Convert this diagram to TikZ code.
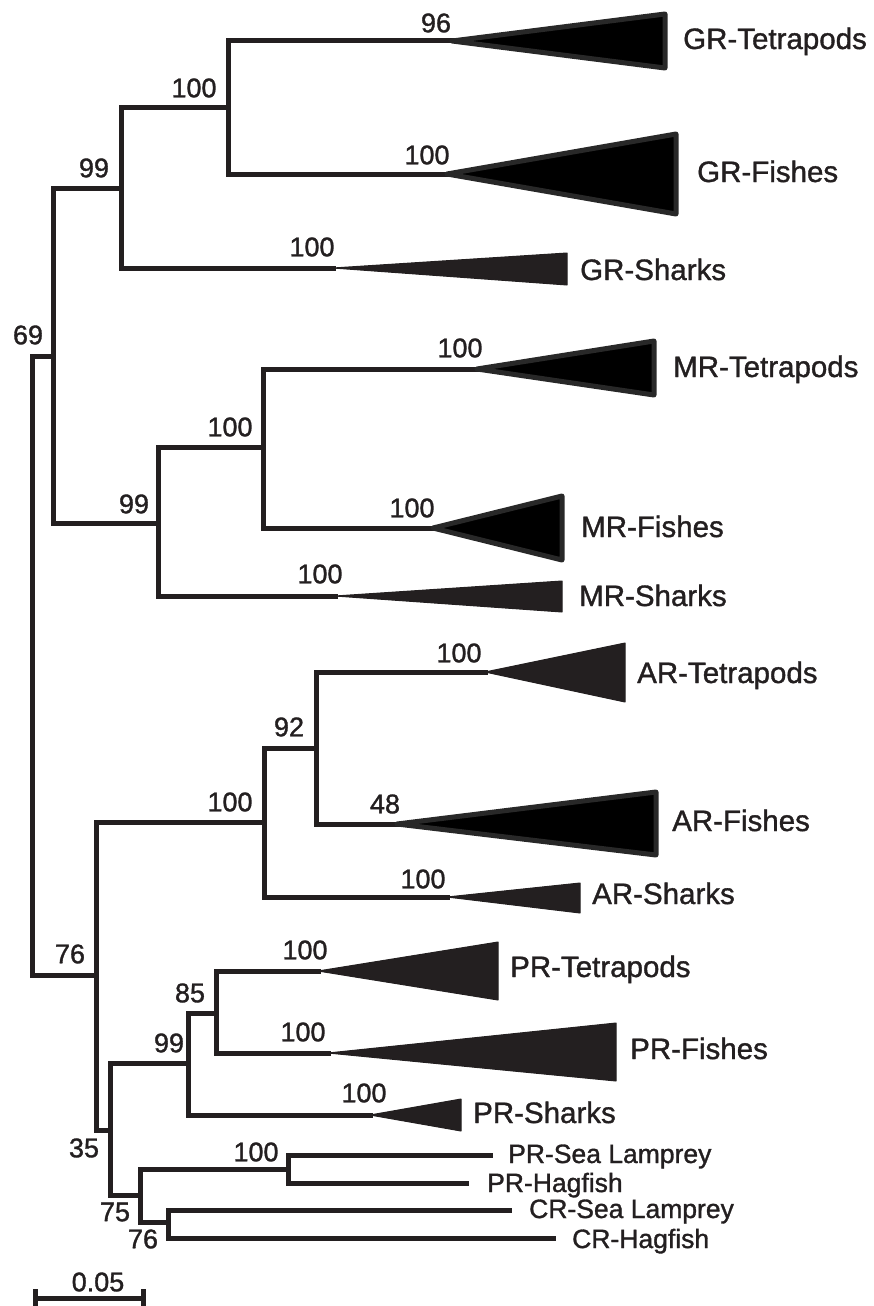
\documentclass[tikz,border=0pt]{standalone}
\usepackage{fontspec}
\setmainfont{Liberation Sans}[FakeBold=1.2]
\definecolor{treecol}{RGB}{35,31,32}
\definecolor{rimcol}{RGB}{40,40,40}
\begin{document}
\begin{tikzpicture}[x=1pt,y=-1pt,
  br/.style={draw=treecol, line width=5pt, line cap=rect},
  tri/.style={fill=treecol, draw=treecol, line width=1pt, line join=round},
  otri/.style={fill=black, draw=rimcol, line width=5pt, line join=round},
  boot/.style={inner sep=0pt, text=treecol, font=\fontsize{27}{29}\selectfont},
  clade/.style={inner sep=0pt, anchor=base west, text=treecol, font=\fontsize{29.5}{31}\selectfont},
  taxon/.style={inner sep=0pt, anchor=base west, text=treecol, font=\fontsize{26.5}{28}\selectfont}]
\useasboundingbox (0,0) rectangle (873,1306);

% internal nodes
\coordinate (R) at (32,600);
\coordinate (A69) at (53,356);
\coordinate (G99) at (121,188);
\coordinate (G100) at (228,107);
\coordinate (M99) at (158,523);
\coordinate (M100) at (263,447);
\coordinate (B76) at (96,975);
\coordinate (A100) at (264,822);
\coordinate (A92) at (316,748);
\coordinate (C35) at (110,1130);
\coordinate (P99) at (188,1063);
\coordinate (P85) at (216,1013);
\coordinate (D75) at (140,1195);
\coordinate (L100) at (288,1169);
\coordinate (E76) at (168,1222);
% tips / apexes
\coordinate (GT) at (452,41);
\coordinate (GF) at (447,174);
\coordinate (GS) at (333,268);
\coordinate (MT) at (477,369);
\coordinate (MF) at (433,528);
\coordinate (MS) at (335,596);
\coordinate (AT) at (485,672);
\coordinate (AF) at (397,824);
\coordinate (AS) at (447,897);
\coordinate (PT) at (318,971);
\coordinate (PF) at (328,1053);
\coordinate (PS) at (370,1115);
\coordinate (PL) at (490,1155);
\coordinate (PH) at (466,1183);
\coordinate (CL) at (509,1210);
\coordinate (CH) at (553,1238);

% branches
\draw[br] (R) |- (A69);
\draw[br] (R) |- (B76);
\draw[br] (A69) |- (G99);
\draw[br] (A69) |- (M99);
\draw[br] (G99) |- (G100);
\draw[br] (G99) |- (GS);
\draw[br] (G100) |- (GT);
\draw[br] (G100) |- (GF);
\draw[br] (M99) |- (M100);
\draw[br] (M99) |- (MS);
\draw[br] (M100) |- (MT);
\draw[br] (M100) |- (MF);
\draw[br] (B76) |- (A100);
\draw[br] (B76) |- (C35);
\draw[br] (A100) |- (A92);
\draw[br] (A100) |- (AS);
\draw[br] (A92) |- (AT);
\draw[br] (A92) |- (AF);
\draw[br] (C35) |- (P99);
\draw[br] (C35) |- (D75);
\draw[br] (P99) |- (P85);
\draw[br] (P99) |- (PS);
\draw[br] (P85) |- (PT);
\draw[br] (P85) |- (PF);
\draw[br] (D75) |- (L100);
\draw[br] (D75) |- (E76);
\draw[br] (L100) |- (PL);
\draw[br] (L100) |- (PH);
\draw[br] (E76) |- (CL);
\draw[br] (E76) |- (CH);

% collapsed clades
\draw[otri] (GT) -- (665,14) -- (665,68) -- cycle;
\draw[otri] (GF) -- (676,134) -- (676,214) -- cycle;
\draw[tri] (GS) -- (567,253) -- (567,285) -- cycle;
\draw[otri] (MT) -- (654,341) -- (654,395) -- cycle;
\draw[otri] (MF) -- (562,496) -- (562,560) -- cycle;
\draw[tri] (MS) -- (562,581) -- (562,612) -- cycle;
\draw[tri] (AT) -- (625,643) -- (625,702) -- cycle;
\draw[otri] (AF) -- (656,792) -- (656,855) -- cycle;
\draw[tri] (AS) -- (580,883) -- (580,913) -- cycle;
\draw[tri] (PT) -- (498,942) -- (498,1000) -- cycle;
\draw[tri] (PF) -- (616,1023) -- (616,1081) -- cycle;
\draw[tri] (PS) -- (461,1099) -- (461,1131) -- cycle;

% clade labels
\node[clade] (lGT) at (683,49) {GR-Tetrapods};
\node[clade] (lGF) at (697,182) {GR-Fishes};
\node[clade] (lGS) at (580,280) {GR-Sharks};
\node[clade] (lMT) at (673,377) {MR-Tetrapods};
\node[clade] (lMF) at (581,537) {MR-Fishes};
\node[clade] (lMS) at (579,606) {MR-Sharks};
\node[clade] (lAT) at (637,683) {AR-Tetrapods};
\node[clade] (lAF) at (672,831) {AR-Fishes};
\node[clade] (lAS) at (592,904) {AR-Sharks};
\node[clade] (lPT) at (510,977) {PR-Tetrapods};
\node[clade] (lPF) at (630,1059) {PR-Fishes};
\node[clade] (lPS) at (473,1123) {PR-Sharks};
\node[taxon] (lPL) at (508,1163) {PR-Sea Lamprey};
\node[taxon] (lPH) at (487,1192) {PR-Hagfish};
\node[taxon] (lCL) at (529,1218) {CR-Sea Lamprey};
\node[taxon] (lCH) at (572,1248) {CR-Hagfish};

% bootstrap values
\node[boot] (b1) at (436,23) {96};
\node[boot] (b2) at (427,155) {100};
\node[boot] (b3) at (194,88) {100};
\node[boot] (b4) at (94,168) {99};
\node[boot] (b5) at (28,335) {69};
\node[boot] (b6) at (312,247) {100};
\node[boot] (b7) at (460,348) {100};
\node[boot] (b8) at (230,427) {100};
\node[boot] (b9) at (134,504) {99};
\node[boot] (b10) at (412,508) {100};
\node[boot] (b11) at (320,574) {100};
\node[boot] (b12) at (459,653) {100};
\node[boot] (b13) at (289,727) {92};
\node[boot] (b14) at (230,802) {100};
\node[boot] (b15) at (385,804) {48};
\node[boot] (b16) at (423,879) {100};
\node[boot] (b17) at (70,954) {76};
\node[boot] (b18) at (305,950) {100};
\node[boot] (b19) at (190,993) {85};
\node[boot] (b20) at (169,1043) {99};
\node[boot] (b21) at (303,1032) {100};
\node[boot] (b22) at (364,1093) {100};
\node[boot] (b23) at (84,1148) {35};
\node[boot] (b24) at (256,1152) {100};
\node[boot] (b25) at (115,1212) {75};
\node[boot] (b26) at (143,1239) {76};

% scale bar
\coordinate (sb1) at (35,1298);
\coordinate (sb2) at (143,1298);
\coordinate (sb1t) at (35,1289);
\coordinate (sb1b) at (35,1312);
\coordinate (sb2t) at (143,1289);
\coordinate (sb2b) at (143,1312);
\draw[br, line cap=butt] (sb1) -- (sb2);
\draw[br, line cap=butt] (sb1t) -- (sb1b);
\draw[br, line cap=butt] (sb2t) -- (sb2b);
\node[boot] (sbl) at (98,1282) {0.05};
\end{tikzpicture}
\end{document}
